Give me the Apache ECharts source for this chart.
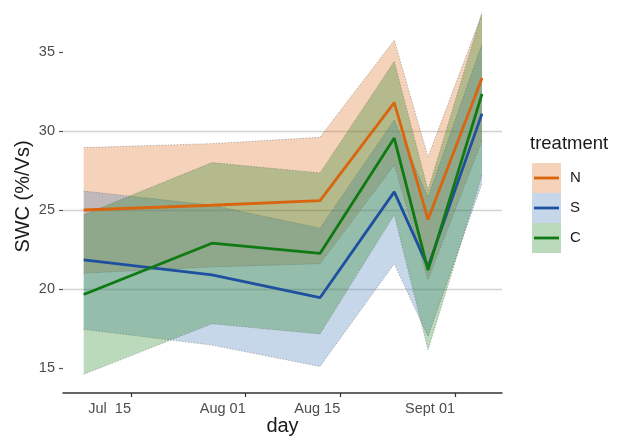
<!DOCTYPE html>
<html>
<head>
<meta charset="utf-8">
<script src="https://cdn.jsdelivr.net/npm/echarts@6/dist/echarts.min.js"></script>
<style>html,body{margin:0;padding:0;background:#fff;}#chart{width:619px;height:442px;}</style>
</head>
<body>
<div id="chart"></div>
<script>
// ---- data (x = days since Jul 1) ----
const days = [7, 26, 42, 53, 58, 66];
const tickDays = [14, 31, 45, 62];
const tickLabels = ['Jul  15', 'Aug 01', 'Aug 15', 'Sept 01'];
const yTicks = [15, 20, 25, 30, 35];
const treatments = ['N', 'S', 'C'];

const meanN = [25.0, 25.3, 25.6, 31.8, 24.4, 33.35];
const upperN = [28.95, 29.2, 29.6, 35.75, 28.35, 37.4];
const lowerN = [21.0, 21.4, 21.6, 27.85, 20.6, 29.4];

const meanS = [21.85, 20.9, 19.45, 26.15, 21.4, 31.1];
const upperS = [26.2, 25.3, 23.85, 30.7, 25.8, 35.5];
const lowerS = [17.45, 16.45, 15.1, 21.6, 17.0, 26.7];

const meanC = [19.65, 22.9, 22.25, 29.55, 21.2, 32.35];
const upperC = [24.7, 28.0, 27.35, 34.4, 26.25, 37.5];
const lowerC = [14.6, 17.8, 17.15, 24.7, 16.15, 27.2];

const lineColors = {N: '#d9650f', S: '#1f50a0', C: '#0f7a14'};
const fillColors = {N: 'rgba(222,110,25,0.3)', S: 'rgba(80,130,190,0.32)', C: 'rgba(30,130,30,0.3)'};

const FONT = '"Liberation Sans", Arial, sans-serif';

function ribbon(name, lo, hi) {
  return {
    type: 'custom',
    name: name + ' band',
    z: 1,
    silent: true,
    data: [[days[0], hi[0]]],
    encode: {x: 0, y: 1},
    renderItem: function (params, api) {
      const top = days.map((d, i) => api.coord([d, hi[i]]));
      const bot = days.map((d, i) => api.coord([d, lo[i]]));
      const poly = top.concat(bot.slice().reverse());
      const edge = {stroke: 'rgba(105,105,105,0.45)', lineWidth: 1, lineDash: [1.5, 1.5], fill: null};
      return {
        type: 'group',
        children: [
          {type: 'polygon', shape: {points: poly}, style: {fill: fillColors[name], stroke: null}},
          {type: 'polyline', shape: {points: top}, style: edge},
          {type: 'polyline', shape: {points: bot}, style: edge}
        ]
      };
    }
  };
}

function line(name, mean) {
  return {
    type: 'line',
    name: name,
    z: 3,
    data: days.map((d, i) => [d, mean[i]]),
    symbol: 'none',
    lineStyle: {color: lineColors[name], width: 2.8},
    itemStyle: {color: lineColors[name]}
  };
}

// legend drawn as graphic keys
const legendGraphics = [{
  type: 'text', left: 530, top: 134,
  style: {text: 'treatment', font: '18.5px ' + FONT, fill: '#1a1a1a'}
}];
treatments.forEach((t, i) => {
  const y0 = 163 + i * 30;
  legendGraphics.push({type: 'rect', shape: {x: 532, y: y0, width: 29, height: 30}, style: {fill: fillColors[t]}});
  legendGraphics.push({type: 'line', shape: {x1: 534, y1: y0 + 15, x2: 559, y2: y0 + 15}, style: {stroke: lineColors[t], lineWidth: 2.8}});
  legendGraphics.push({type: 'text', left: 570, top: y0 + 7, style: {text: t, font: '15px ' + FONT, fill: '#1a1a1a'}});
});

const chart = echarts.init(document.getElementById('chart'), null, {renderer: 'canvas'});
chart.setOption({
  animation: false,
  backgroundColor: '#ffffff',
  grid: {left: 63, right: 117, top: 0, bottom: 49, containLabel: false, outerBoundsMode: 'none'},
  xAxis: {
    type: 'value',
    min: 3.93, max: 68.96,
    name: 'day', nameLocation: 'middle', nameGap: 23, nameMoveOverlap: false,
    nameTextStyle: {fontFamily: FONT, fontSize: 20, color: '#1a1a1a'},
    axisLine: {show: true, onZero: false, lineStyle: {color: '#333', width: 1.5}},
    axisTick: {show: true, customValues: tickDays, length: 4, lineStyle: {color: '#333', width: 1.2}},
    axisLabel: {
      customValues: tickDays, margin: 8, align: 'right',
      fontFamily: FONT, fontSize: 14.5, color: '#4d4d4d',
      formatter: function (v) { const k = tickDays.indexOf(v); return k >= 0 ? tickLabels[k] : ''; }
    },
    splitLine: {show: false}
  },
  yAxis: {
    type: 'value',
    min: 13.42, max: 38.29,
    name: 'SWC (%/Vs)', nameLocation: 'middle', nameGap: 30, nameMoveOverlap: false,
    nameTextStyle: {fontFamily: FONT, fontSize: 20, color: '#1a1a1a'},
    axisLine: {show: false},
    axisTick: {show: true, customValues: yTicks, length: 4, lineStyle: {color: '#555', width: 1.2}},
    axisLabel: {customValues: yTicks, margin: 8, fontFamily: FONT, fontSize: 14.5, color: '#4d4d4d'},
    splitLine: {show: true, showMinLine: false, showMaxLine: false, lineStyle: {color: '#d3d3d3', width: 1.3}}
  },
  series: [
    ribbon('N', lowerN, upperN),
    ribbon('S', lowerS, upperS),
    ribbon('C', lowerC, upperC),
    line('N', meanN),
    line('S', meanS),
    line('C', meanC)
  ],
  graphic: legendGraphics
});
</script>
</body>
</html>
